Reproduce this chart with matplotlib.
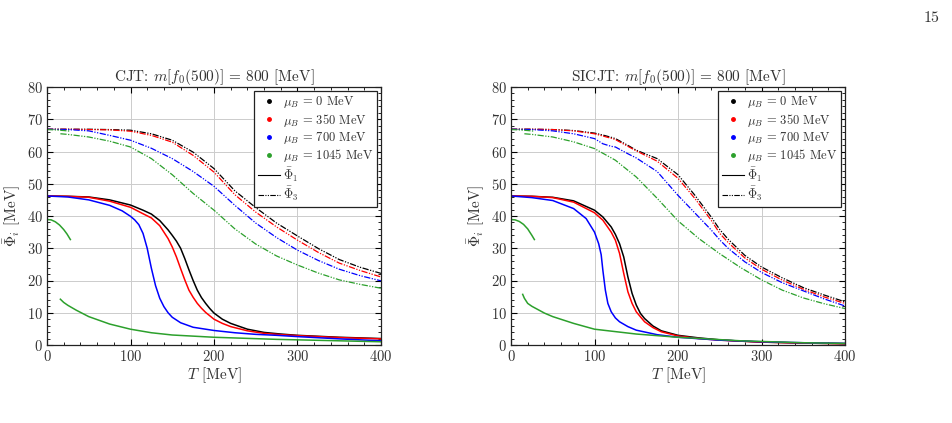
import matplotlib
matplotlib.use("Agg")
import matplotlib.pyplot as plt
from matplotlib.ticker import MultipleLocator, AutoMinorLocator
from matplotlib.lines import Line2D

plt.rcParams["font.family"] = "serif"
plt.rcParams["font.serif"] = ["cmr10"]
plt.rcParams["mathtext.fontset"] = "cm"
plt.rcParams["axes.formatter.use_mathtext"] = True

mu_labels = ["0", "350", "700", "1045"]
colors = ["black", "red", "blue", "#2ca02c"]

# ---- CJT panel (left) ----
cjt_phi1_T = [
    [0, 25, 50, 75, 100, 115, 125, 135, 145, 150, 155, 160, 165, 170, 175, 180, 185, 190, 195, 200, 210, 220, 240, 260, 280, 300, 350, 400],
    [0, 25, 50, 75, 100, 115, 125, 135, 140, 145, 150, 155, 160, 165, 170, 175, 180, 185, 190, 200, 210, 220, 240, 260, 280, 300, 350, 400],
    [0, 25, 50, 75, 90, 100, 105, 110, 115, 120, 125, 130, 135, 140, 145, 150, 160, 175, 200, 225, 250, 275, 300, 350, 400],
]
cjt_phi1 = [
    [46.2, 46.1, 45.9, 45.0, 43.4, 41.8, 40.6, 38.6, 35.7, 34.0, 32.2, 30.0, 26.8, 23.3, 20.0, 17.0, 14.7, 12.9, 11.3, 9.9, 8.0, 6.7, 4.9, 3.9, 3.4, 3.0, 2.4, 2.0],
    [46.2, 46.1, 45.8, 44.6, 42.7, 40.7, 39.4, 37.0, 35.0, 33.0, 30.4, 27.3, 23.7, 20.2, 17.0, 14.8, 12.9, 11.4, 10.1, 8.0, 6.7, 5.7, 4.4, 3.6, 3.2, 2.9, 2.3, 1.9],
    [46.2, 45.9, 45.0, 43.3, 41.6, 39.9, 38.8, 37.3, 34.6, 30.0, 23.8, 18.4, 14.5, 11.9, 10.0, 8.6, 6.9, 5.5, 4.5, 3.8, 3.3, 3.0, 2.6, 1.9, 1.3],
]
cjt_green1_a_T = [0, 5, 10, 15, 20, 24, 28]
cjt_green1_a = [38.9, 38.8, 38.2, 37.2, 35.8, 34.4, 32.7]
cjt_green1_b_T = [16, 20, 25, 35, 50, 75, 100, 125, 150, 200, 275, 350, 400]
cjt_green1_b = [14.2, 13.2, 12.3, 10.8, 8.8, 6.5, 4.9, 3.8, 3.1, 2.4, 1.75, 1.3, 1.0]

cjt_phi3_T = [0, 25, 50, 75, 100, 125, 150, 175, 200, 225, 250, 275, 300, 325, 350, 375, 400]
cjt_phi3 = [
    [66.9, 66.9, 66.9, 66.8, 66.6, 65.5, 63.5, 59.8, 54.7, 47.8, 42.6, 37.8, 33.8, 29.9, 26.5, 24.1, 22.2],
    [66.9, 66.9, 66.8, 66.7, 66.3, 65.0, 62.9, 58.8, 53.6, 46.6, 41.2, 36.6, 32.5, 28.7, 25.4, 23.1, 21.1],
    [66.9, 66.8, 66.4, 65.0, 63.5, 61.0, 57.8, 53.8, 49.2, 43.3, 37.8, 33.3, 29.4, 26.2, 23.5, 21.5, 19.9],
]
cjt_green3_a_T = [0, 10, 20, 28]
cjt_green3_a = [66.8, 66.7, 66.5, 66.3]
cjt_green3_b_T = [16, 25, 50, 75, 100, 125, 150, 175, 200, 225, 250, 275, 300, 325, 350, 375, 400]
cjt_green3_b = [65.5, 65.3, 64.5, 63.2, 61.4, 57.8, 52.8, 47.0, 41.8, 36.0, 31.3, 27.6, 24.8, 22.3, 20.2, 18.8, 17.6]

# ---- SICJT panel (right) ----
sic_phi1_T = [
    [0, 25, 50, 75, 100, 110, 120, 125, 130, 135, 140, 145, 150, 155, 160, 170, 180, 200, 225, 250, 275, 300, 350, 400],
    [0, 25, 50, 75, 100, 110, 120, 125, 130, 135, 140, 145, 150, 160, 170, 180, 200, 225, 250, 275, 300, 350, 400],
    [0, 25, 50, 75, 90, 100, 105, 108, 110, 113, 116, 120, 125, 130, 140, 150, 175, 200, 250, 300, 350, 400],
]
sic_phi1 = [
    [46.2, 46.1, 45.8, 44.7, 41.8, 39.7, 36.6, 34.3, 31.4, 27.3, 21.1, 16.0, 12.4, 9.8, 8.2, 5.9, 4.4, 3.0, 2.2, 1.6, 1.2, 0.9, 0.6, 0.4],
    [46.2, 46.1, 45.7, 44.3, 41.0, 38.7, 35.0, 32.5, 28.4, 22.2, 16.5, 12.9, 10.3, 7.2, 5.4, 4.1, 2.8, 2.0, 1.5, 1.2, 0.9, 0.6, 0.4],
    [46.2, 45.7, 44.8, 42.3, 39.2, 35.0, 31.4, 28.0, 23.2, 17.0, 12.9, 10.3, 8.4, 7.2, 5.7, 4.6, 3.2, 2.4, 1.5, 1.0, 0.7, 0.5],
]
sic_green1_a_T = [0, 5, 10, 15, 20, 25, 28]
sic_green1_a = [38.9, 38.8, 38.3, 37.4, 36.0, 34.0, 32.7]
sic_green1_b_T = [14, 16, 20, 25, 30, 40, 50, 75, 100, 150, 200, 275, 350, 400]
sic_green1_b = [15.7, 14.5, 12.9, 12.0, 11.3, 9.9, 8.8, 6.7, 4.9, 3.4, 2.4, 1.3, 0.7, 0.5]

sic_phi3_T = [0, 25, 50, 75, 100, 110, 120, 125, 140, 150, 175, 200, 220, 240, 250, 260, 280, 300, 325, 350, 375, 400]
sic_phi3 = [
    [66.9, 66.9, 66.8, 66.5, 65.7, 65.1, 64.4, 64.0, 61.9, 60.4, 57.8, 52.8, 46.5, 39.6, 35.8, 32.8, 27.8, 24.2, 20.8, 17.8, 15.5, 13.4],
    [66.9, 66.9, 66.8, 66.4, 65.5, 64.8, 64.1, 63.7, 61.6, 60.2, 57.0, 51.7, 45.5, 38.6, 34.6, 31.8, 27.0, 23.5, 20.1, 17.3, 14.9, 12.9],
    [66.9, 66.8, 66.4, 65.5, 64.0, 62.4, 61.6, 61.4, 59.3, 58.0, 53.8, 46.4, 41.0, 35.6, 32.6, 30.0, 25.8, 22.5, 19.3, 16.8, 14.3, 12.1],
]
sic_green3_a_T = [0, 10, 20, 28]
sic_green3_a = [66.8, 66.7, 66.5, 66.3]
sic_green3_b_T = [16, 25, 50, 75, 100, 125, 150, 175, 200, 225, 250, 275, 300, 325, 350, 375, 400]
sic_green3_b = [65.5, 65.3, 64.5, 63.0, 60.9, 57.3, 52.1, 45.5, 38.5, 33.0, 28.3, 24.0, 20.2, 17.0, 14.6, 12.8, 11.3]

panels = [
    ("CJT", cjt_phi1_T, cjt_phi1, cjt_green1_a_T, cjt_green1_a, cjt_green1_b_T, cjt_green1_b,
     cjt_phi3_T, cjt_phi3, cjt_green3_a_T, cjt_green3_a, cjt_green3_b_T, cjt_green3_b),
    ("SICJT", sic_phi1_T, sic_phi1, sic_green1_a_T, sic_green1_a, sic_green1_b_T, sic_green1_b,
     sic_phi3_T, sic_phi3, sic_green3_a_T, sic_green3_a, sic_green3_b_T, sic_green3_b),
]

dashdotdot = (0, (5, 1.2, 1, 1.2, 1, 1.2))
txt = "#333333"

fig = plt.figure(figsize=(9.52, 4.23), dpi=100)
axes = [fig.add_axes([47 / 952, 1 - 345 / 423, 334 / 952, 258 / 423]),
        fig.add_axes([511 / 952, 1 - 345 / 423, 334 / 952, 258 / 423])]

for ax, p in zip(axes, panels):
    (name, p1T, p1, g1aT, g1a, g1bT, g1b, p3T, p3, g3aT, g3a, g3bT, g3b) = p
    for i in range(3):
        ax.plot(p3T, p3[i], color=colors[i], lw=0.9, linestyle=dashdotdot)
        ax.plot(p1T[i], p1[i], color=colors[i], lw=1.1)
    ax.plot(g3aT, g3a, color=colors[3], lw=0.9, linestyle=dashdotdot)
    ax.plot(g3bT, g3b, color=colors[3], lw=0.9, linestyle=dashdotdot)
    ax.plot(g1aT, g1a, color=colors[3], lw=1.1)
    ax.plot(g1bT, g1b, color=colors[3], lw=1.1)

    ax.set_xlim(0, 400)
    ax.set_ylim(0, 80)
    ax.xaxis.set_major_locator(MultipleLocator(100))
    ax.yaxis.set_major_locator(MultipleLocator(10))
    ax.xaxis.set_minor_locator(AutoMinorLocator(5))
    ax.yaxis.set_minor_locator(AutoMinorLocator(5))
    ax.tick_params(which="both", direction="in", top=True, right=True,
                   labelsize=10.5, labelcolor=txt, pad=3)
    ax.tick_params(which="major", length=4)
    ax.tick_params(which="minor", length=2)
    ax.grid(True, which="major", color="#cccccc", lw=0.7)
    ax.set_axisbelow(True)
    for s in ax.spines.values():
        s.set_linewidth(0.9)
        s.set_color("#222222")

    ax.set_title(name + r": $m[f_0(500)]$ = 800 [MeV]", fontsize=11, color=txt, pad=4)
    ax.set_xlabel(r"$T$ [MeV]", fontsize=11, color=txt, labelpad=1)
    ax.set_ylabel(r"$\bar{\Phi}_i$ [MeV]", fontsize=11, color=txt, labelpad=3)

    handles = [Line2D([], [], marker="o", ms=2.5, ls="none", color=c) for c in colors]
    handles += [Line2D([], [], color="black", lw=0.8),
                Line2D([], [], color="black", lw=0.8, linestyle=dashdotdot)]
    labels = [r"$\mu_B$ = %s MeV" % m for m in mu_labels] + [r"$\bar{\Phi}_1$", r"$\bar{\Phi}_3$"]
    leg = ax.legend(handles, labels, loc="upper right", fontsize=9, frameon=True,
                    fancybox=False, edgecolor="#222222", framealpha=1, borderpad=0.3,
                    labelspacing=0.1, handlelength=1.8, handletextpad=0.25,
                    borderaxespad=0.3)
    leg.get_frame().set_linewidth(0.9)
    for t in leg.get_texts():
        t.set_color(txt)

fig.text(932 / 952, 1 - 18 / 423, "15", fontsize=11.5, ha="center", va="center", color=txt)

fig.savefig("out.png", dpi=100)
